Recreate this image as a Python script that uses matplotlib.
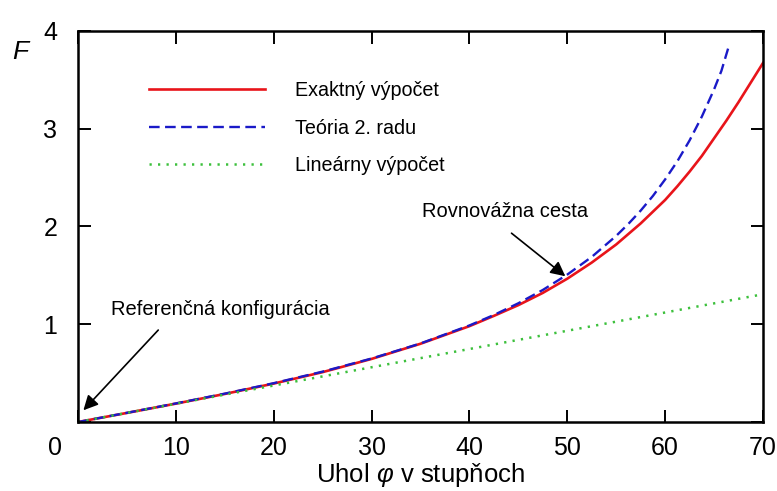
import matplotlib
matplotlib.use("Agg")
import matplotlib.pyplot as plt

plt.rcParams['font.family'] = ['Liberation Sans', 'DejaVu Sans']
plt.rcParams['mathtext.fontset'] = 'custom'
plt.rcParams['mathtext.rm'] = 'Liberation Sans'
plt.rcParams['mathtext.it'] = 'Liberation Sans:italic'

# Data
phi_exact = [0, 5, 10, 15, 20, 25, 30, 35, 40, 42.5, 45, 47.5, 50, 52.5, 55, 57.5, 60,
             61.25, 62.5, 63.75, 65, 66.25, 67.5, 68.75, 70]
F_exact = [0, 0.093, 0.188, 0.287, 0.393, 0.51, 0.645, 0.80, 0.98, 1.085, 1.195, 1.32, 1.465, 1.63, 1.815, 2.03, 2.27,
           2.41, 2.56, 2.72, 2.90, 3.08, 3.27, 3.47, 3.67]

phi_second = [0, 5, 10, 15, 20, 25, 30, 35, 40, 42.5, 45, 47.5, 50, 52.5, 55, 56.25, 57.5, 58.75, 60,
              61.25, 62.5, 63.75, 65, 65.75, 66.5]
F_second = [0, 0.094, 0.19, 0.29, 0.397, 0.515, 0.649, 0.803, 0.987, 1.094, 1.214, 1.35, 1.507, 1.688, 1.903, 2.026,
            2.161, 2.311, 2.48, 2.666, 2.879, 3.122, 3.40, 3.59, 3.84]

phi_linear = [0, 70]
F_linear = [0, 1.306]

labels = ['Exaktný výpočet', 'Teória 2. radu', 'Lineárny výpočet']

fig = plt.figure(figsize=(7.77, 4.91), dpi=100)
ax = fig.add_axes([0.1004, 0.1405, 0.8816, 0.797])

ax.plot(phi_exact, F_exact, color='#e8141a', lw=1.9, label=labels[0])
ax.plot(phi_second, F_second, color='#1a1ac8', lw=1.7, ls=(0, (4.5, 2.3)), label=labels[1])
ax.plot(phi_linear, F_linear, color='#3cc03c', lw=1.8, ls=(0, (0.9, 2.5)), label=labels[2])

ax.set_xlim(0, 70)
ax.set_ylim(0, 4)
ax.set_xticks(range(0, 71, 10))
ax.set_xticklabels([''] + [str(v) for v in range(10, 71, 10)])
ax.set_yticks(range(0, 5))
ax.set_yticklabels([''] + [str(v) for v in range(1, 5)])
ax.tick_params(direction='in', length=9, width=1.4, top=True, right=True, labelsize=18)
ax.tick_params(axis='x', pad=10)
ax.tick_params(axis='y', pad=15)
for s in ax.spines.values():
    s.set_linewidth(1.8)

fig.text(55 / 777, 1 - 448 / 491, '0', fontsize=18, ha='center', va='center')
fig.text(20 / 777, 1 - 52 / 491, 'F', fontsize=19, style='italic', ha='center', va='center')
ax.set_xlabel('Uhol $\\varphi$ v stupňoch', fontsize=18.5, labelpad=1)

ax.legend(loc='upper left', bbox_to_anchor=(139 / 777, 1 - 71 / 491), bbox_transform=fig.transFigure,
          frameon=False, fontsize=14.2, handlelength=5.9, handletextpad=1.5, labelspacing=0.95, borderpad=0)

arrow = dict(arrowstyle='-|>', color='black', lw=1.2, mutation_scale=22, shrinkA=0, shrinkB=0)
ax.annotate('', xy=(0.55, 0.12), xytext=(8.2, 0.94), arrowprops=arrow, annotation_clip=False)
ax.text(14.5, 1.145, 'Referenčná konfigurácia', fontsize=14.5, ha='center', va='center')
ax.annotate('', xy=(49.8, 1.49), xytext=(44.3, 1.93), arrowprops=arrow)
ax.text(43.6, 2.147, 'Rovnovážna cesta', fontsize=14.5, ha='center', va='center')

fig.savefig('out.png', dpi=100)
